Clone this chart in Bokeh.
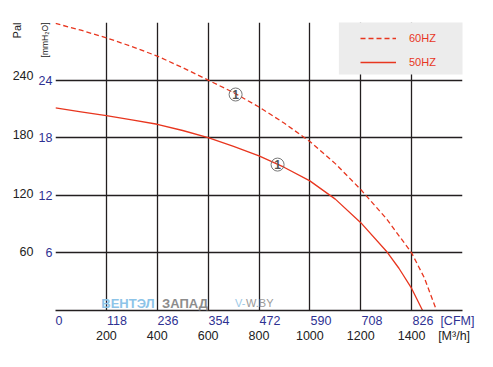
import math
from bokeh.plotting import figure
from bokeh.models import (Range1d, LinearAxis, FixedTicker, Label, BoxAnnotation,
                          Legend, LegendItem, ColumnDataSource)
from bokeh.core.properties import value
from bokeh.embed import file_html
from bokeh.resources import INLINE

# ---- data ----
flow_50 = [0, 100, 200, 300, 400, 500, 600, 700, 800, 900, 1000, 1100, 1200, 1300, 1350, 1400, 1443]
press_50 = [21.1, 20.7, 20.3, 19.85, 19.4, 18.75, 18.0, 17.1, 16.1, 14.9, 13.5, 11.6, 9.15, 6.2, 4.4, 2.3, 0.0]
flow_60 = [0, 100, 200, 300, 400, 500, 600, 700, 800, 900, 1000, 1100, 1200, 1300, 1400, 1450, 1498]
press_60 = [29.9, 29.2, 28.4, 27.5, 26.5, 25.3, 24.0, 22.7, 21.2, 19.5, 17.6, 15.3, 12.6, 9.6, 6.0, 3.4, 0.0]
marker_flow = [708, 873]
marker_press = [22.5, 15.2]
marker_text = ["1", "1"]

m3h_ticks = [200, 400, 600, 800, 1000, 1200, 1400]
cfm_ticks = [0, 118, 236, 354, 472, 590, 708, 826]
mm_ticks = [6, 12, 18, 24]
pa_ticks = [60, 120, 180, 240]
grid_x = [0, 200, 400, 600, 800, 1000, 1200, 1400, 1600]
grid_y = [6, 12, 18, 24, 30]
legend_labels = ["60HZ", "50HZ"]

CFM_PER_M3H = 0.58858
PA_PER_MM = 9.80665
FONT = "Liberation Sans"
RED = "#e8361f"
NAVY = "#2e3192"
INK = "#231f20"
FSP = "\u2007"  # figure space, used only to shift label anchors

p = figure(width=477, height=351, x_range=Range1d(0, 1600), y_range=Range1d(0, 30),
           output_backend="svg", toolbar_location=None,
           min_border_left=55, min_border_right=15, min_border_top=22, min_border_bottom=41)
p.outline_line_color = None
p.background_fill_color = "white"
p.border_fill_color = "white"

# grid (also forms the left/top/right frame lines)
p.xgrid.ticker = FixedTicker(ticks=grid_x)
p.ygrid.ticker = FixedTicker(ticks=grid_y)
for g in (p.xgrid[0], p.ygrid[0]):
    g.grid_line_color = INK
    g.grid_line_width = 1.3

def style_axis(ax, color, size, standoff):
    ax.major_label_text_color = color
    ax.major_label_text_font = FONT
    ax.major_label_text_font_size = size
    ax.major_label_standoff = standoff
    ax.major_tick_line_color = None
    ax.minor_tick_line_color = None
    ax.major_tick_out = 0
    ax.major_tick_in = 0
    ax.minor_tick_out = 0
    ax.minor_tick_in = 0

# inner x axis: CFM (labels left-aligned at their tick) + unit label
cfm_pos = [c / CFM_PER_M3H for c in cfm_ticks]
xa = p.xaxis[0]
xa.ticker = FixedTicker(ticks=cfm_pos + [1580])
overrides = {pos: FSP * len(str(c)) + str(c) for pos, c in zip(cfm_pos, cfm_ticks)}
overrides[1580] = "[CFM]"
xa.major_label_overrides = overrides
style_axis(xa, NAVY, "12.5px", 3)
xa.axis_line_color = INK
xa.axis_line_width = 1.3

# outer x axis: m3/h + unit label
xb = LinearAxis(ticker=FixedTicker(ticks=m3h_ticks + [1567]))
xb.major_label_overrides = {1567: "[M\u00b3/h]"}
style_axis(xb, "#222222", "12.5px", -2)
xb.axis_line_color = None
p.add_layout(xb, "below")

# inner y axis: mmH2O
ya = p.yaxis[0]
ya.ticker = FixedTicker(ticks=mm_ticks)
style_axis(ya, NAVY, "12.5px", 3)
ya.axis_line_color = None
ya.axis_label = "[mmH\u2082O]"
ya.axis_label_align = "end"
ya.axis_label_orientation = math.pi / 2
ya.axis_label_standoff = -9
ya.axis_label_text_font = FONT
ya.axis_label_text_font_size = "8.5px"
ya.axis_label_text_font_style = "normal"
ya.axis_label_text_color = "#222222"

# outer y axis: Pa
p.extra_y_ranges = {"pa": Range1d(0, 30 * PA_PER_MM)}
yb = LinearAxis(y_range_name="pa", ticker=FixedTicker(ticks=pa_ticks))
style_axis(yb, "#222222", "12.5px", -2)
yb.axis_line_color = None
yb.axis_label = "Pal"
yb.axis_label_align = "end"
yb.axis_label_orientation = math.pi / 2
yb.axis_label_standoff = -7
yb.axis_label_text_font = FONT
yb.axis_label_text_font_size = "11px"
yb.axis_label_text_font_style = "normal"
yb.axis_label_text_color = "#222222"
p.add_layout(yb, "left")

# curves
r60 = p.line(flow_60, press_60, line_color=RED, line_width=1.3, line_dash="5 3")
r50 = p.line(flow_50, press_50, line_color=RED, line_width=1.3)

# circled "1" markers
msrc = ColumnDataSource(dict(x=marker_flow, y=marker_press, t=marker_text))
p.scatter("x", "y", source=msrc, size=13, marker="circle", fill_color=None,
          line_color="#777777", line_width=1)
p.text("x", "y", text="t", source=msrc, text_align="center", text_baseline="middle",
       text_font=value(FONT), text_font_size="12px", text_font_style="bold",
       text_color="#555555")

# legend background box
p.add_layout(BoxAnnotation(left=1114, right=1640, bottom=24.58, top=31,
                           fill_color="#ececec", fill_alpha=1, line_color=None))
legend = Legend(items=[LegendItem(label=legend_labels[0], renderers=[r60]),
                       LegendItem(label=legend_labels[1], renderers=[r50])],
                location=(305, 238), padding=3, spacing=4, glyph_width=36,
                glyph_height=20, label_height=20, label_standoff=13,
                background_fill_alpha=0, border_line_color=None, margin=0,
                label_text_color=RED, label_text_font=FONT,
                label_text_font_size="11px")
p.add_layout(legend)

# watermark
def lab(x, y, text, color, size, **kw):
    p.add_layout(Label(x=x, y=y, text=text, text_color=color, text_font=FONT,
                       text_font_size=size, **kw))

lab(180, 0.73, "ВЕНТЭЛ", "#8dc4e8", "13px", text_font_style="bold", text_align="left", text_baseline="middle")
lab(419, 0.73, "ЗАПАД", "#8c8c8c", "13px", text_font_style="bold", text_align="left", text_baseline="middle")
lab(706, 0.73, "V-", "#9cc8e6", "11px", text_align="left", text_baseline="middle")
lab(749, 0.73, "W.BY", "#9a9a9a", "11px", text_align="left", text_baseline="middle")

open("out.html", "w").write(file_html(p, INLINE))
